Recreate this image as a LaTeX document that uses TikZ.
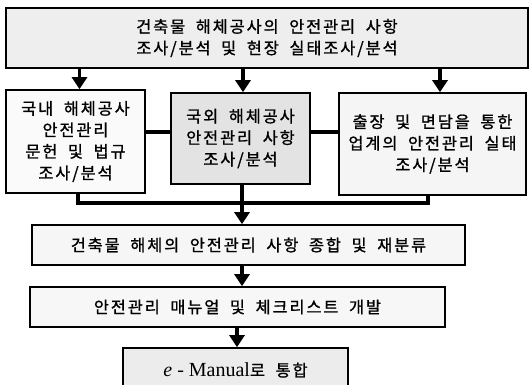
\documentclass[tikz,border=0pt]{standalone}
\usepackage{fontspec}
\newfontfamily\kr[LetterSpace=12,WordSpace=1.9,FakeBold=1.1]{Noto Sans CJK KR}
\newfontfamily\lserif{Liberation Serif}
\usetikzlibrary{arrows.meta}
\tikzset{
  box/.style={draw=black, line width=1.6pt, align=center, inner sep=0pt,
    font=\kr\fontsize{16.3}{21.5}\selectfont},
  conn/.style={line width=3.8pt},
  arr/.style={conn, -{Triangle[width=15pt,length=12pt]}},
}
\begin{document}
\begin{tikzpicture}[x=1pt,y=-1pt]
\useasboundingbox (0,0) rectangle (530,384);
\clip (0,0) rectangle (530,384);
\node[box, fill=gray!13, minimum width=522pt, minimum height=60pt] (top) at (267,38)
  {건축물 해체공사의 안전관리 사항\\조사/분석 및 현장 실태조사/분석};
\node[box, fill=gray!4, minimum width=139pt, minimum height=103pt] (b1) at (75.5,141.5)
  {국내 해체공사\\안전관리\\문헌 및 법규\\조사/분석};
\node[box, fill=gray!22, minimum width=139pt, minimum height=91pt] (b2) at (240.5,138.5)
  {국외 해체공사\\안전관리 사항\\조사/분석};
\node[box, fill=gray!8, minimum width=187pt, minimum height=102pt] (b3) at (432.5,144)
  {출장 및 면담을 통한\\업계의 안전관리 실태\\조사/분석};
\node[box, fill=gray!7, minimum width=433pt, minimum height=40pt] (b4) at (248.5,245)
  {건축물 해체의 안전관리 사항 종합 및 재분류};
\node[box, fill=gray!6, minimum width=415pt, minimum height=40pt] (b5) at (237.5,307)
  {안전관리 매뉴얼 및 체크리스트 개발};
\node[box, fill=gray!15, minimum width=225pt, minimum height=44pt] (b6) at (235.5,370)
  {{\lserif\fontsize{20}{24}\selectfont\itshape e\/}{\lserif\fontsize{20}{24}\selectfont\ -\ Manual}로 통합};

\coordinate (hl) at (0,132);
\coordinate (ml) at (0,203);
% arrows from top box
\draw[arr] ([xshift=4pt]top.south -| b1.north) -- ([xshift=4pt]b1.north);
\draw[arr] ([xshift=2.5pt]top.south -| b2.north) -- ([xshift=2.5pt]b2.north);
\draw[arr] ([xshift=7.5pt]top.south -| b3.north) -- ([xshift=7.5pt]b3.north);
% horizontal links
\draw[conn] (b1.east |- hl) -- (b2.west |- hl);
\draw[conn] (b2.east |- hl) -- (b3.west |- hl);
% merge
\draw[conn, line join=miter] ([xshift=2.5pt]b1.south) -- ([xshift=2.5pt]b1.south |- ml)
  -- ([xshift=-4.5pt]b3.south |- ml) -- ([xshift=-4.5pt]b3.south);
\draw[conn] ([xshift=1.5pt]b2.south) -- ([xshift=1.5pt]b2.south |- ml);
\draw[arr] ([xshift=1.5pt]b2.south |- ml) -- ([xshift=1.5pt]b2.south |- b4.north);
\draw[arr] ([xshift=-6.5pt]b4.south) -- ([xshift=-6.5pt]b4.south |- b5.north);
\draw[arr] ([xshift=-0.5pt]b5.south) -- ([xshift=-0.5pt]b5.south |- b6.north);
\end{tikzpicture}
\end{document}
